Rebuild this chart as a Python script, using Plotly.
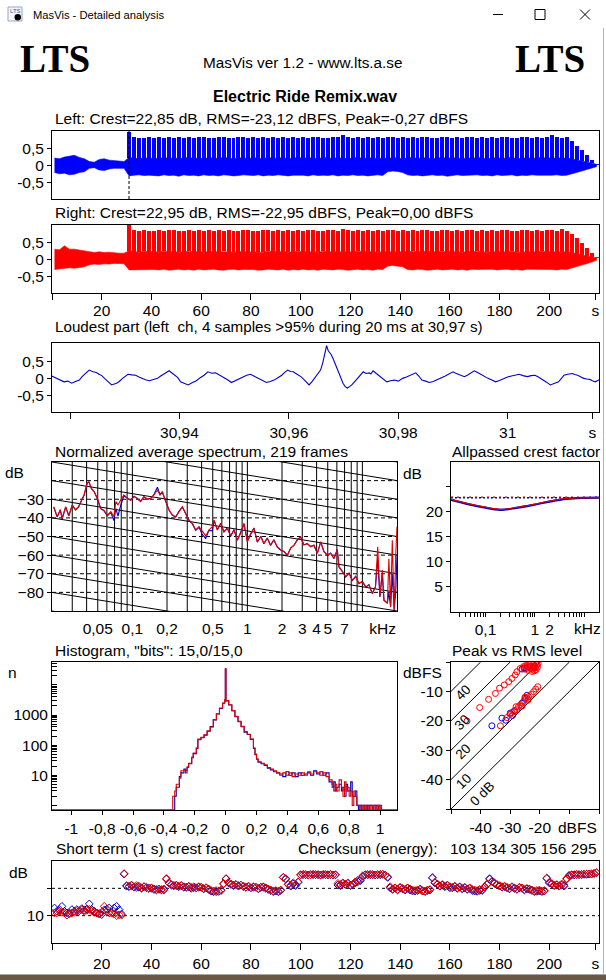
import plotly.graph_objects as go

W, H = 606, 980
SANS = "Liberation Sans, Arial, sans-serif"
SERIF = "Liberation Serif, Times New Roman, serif"
BLUE = "#0000ff"
RED = "#ff0000"
FS = 15.5

# ---------------- data ----------------
# waveform envelopes, one value per 2 s block (block centres 1, 3, ..., 219 s)
left_hi = [0.22, 0.20, 0.25, 0.28, 0.30, 0.24, 0.20, 0.12, 0.10, 0.18,
           0.20, 0.16, 0.14, 0.13, 0.12, 0.99, 0.84, 0.82, 0.83, 0.85,
           0.82, 0.84, 0.83, 0.86, 0.82, 0.84, 0.83, 0.85, 0.82, 0.84,
           0.86, 0.83, 0.82, 0.84, 0.85, 0.83, 0.82, 0.84, 0.86, 0.83,
           0.84, 0.82, 0.85, 0.83, 0.84, 0.82, 0.86, 0.83, 0.84, 0.82,
           0.85, 0.83, 0.84, 0.86, 0.82, 0.83, 0.85, 0.84, 0.90, 0.86,
           0.83, 0.84, 0.82, 0.85, 0.83, 0.84, 0.82, 0.86, 0.84, 0.83,
           0.85, 0.82, 0.84, 0.83, 0.86, 0.84, 0.82, 0.83, 0.85, 0.84,
           0.82, 0.86, 0.83, 0.84, 0.85, 0.82, 0.84, 0.83, 0.86, 0.82,
           0.84, 0.85, 0.83, 0.82, 0.84, 0.86, 0.83, 0.84, 0.82, 0.85,
           0.90, 0.84, 0.82, 0.85, 0.74, 0.60, 0.46, 0.33, 0.19, 0.06]
left_mid = [0.22, 0.20, 0.25, 0.28, 0.30, 0.24, 0.20, 0.12, 0.10, 0.18,
            0.20, 0.16, 0.14, 0.13, 0.12, 0.24, 0.22, 0.20, 0.23, 0.21,
            0.22, 0.20, 0.24, 0.21, 0.23, 0.20, 0.22, 0.24, 0.21, 0.22,
            0.20, 0.23, 0.22, 0.21, 0.24, 0.22, 0.20, 0.23, 0.22, 0.21,
            0.23, 0.22, 0.20, 0.24, 0.21, 0.22, 0.23, 0.20, 0.22, 0.24,
            0.21, 0.23, 0.22, 0.20, 0.24, 0.22, 0.21, 0.23, 0.22, 0.20,
            0.22, 0.24, 0.21, 0.22, 0.23, 0.20, 0.22, 0.21, 0.23, 0.22,
            0.20, 0.22, 0.24, 0.21, 0.23, 0.22, 0.20, 0.22, 0.24, 0.21,
            0.23, 0.22, 0.20, 0.23, 0.21, 0.24, 0.22, 0.20, 0.22, 0.23,
            0.21, 0.22, 0.24, 0.20, 0.22, 0.23, 0.21, 0.22, 0.24, 0.22,
            0.22, 0.21, 0.23, 0.22, 0.20, 0.17, 0.14, 0.11, 0.08, 0.04]
left_lo = [-0.20, -0.24, -0.22, -0.27, -0.25, -0.20, -0.18, -0.08, -0.06, -0.13,
           -0.14, -0.10, -0.08, -0.07, -0.08, -0.30, -0.28, -0.27, -0.29, -0.28,
           -0.28, -0.30, -0.27, -0.29, -0.28, -0.31, -0.27, -0.29, -0.28, -0.30,
           -0.27, -0.29, -0.28, -0.30, -0.27, -0.28, -0.30, -0.29, -0.27, -0.28,
           -0.29, -0.27, -0.30, -0.28, -0.29, -0.27, -0.28, -0.30, -0.28, -0.27,
           -0.28, -0.30, -0.27, -0.29, -0.28, -0.29, -0.27, -0.30, -0.28, -0.29,
           -0.27, -0.29, -0.28, -0.30, -0.28, -0.27, -0.29, -0.18, -0.16, -0.17,
           -0.20, -0.27, -0.29, -0.28, -0.30, -0.28, -0.27, -0.29, -0.28, -0.31,
           -0.28, -0.27, -0.29, -0.30, -0.28, -0.27, -0.29, -0.28, -0.30, -0.27,
           -0.29, -0.28, -0.27, -0.30, -0.28, -0.29, -0.27, -0.28, -0.30, -0.28,
           -0.28, -0.27, -0.29, -0.28, -0.24, -0.20, -0.16, -0.12, -0.08, -0.03]
right_hi = [0.30, 0.28, 0.40, 0.30, 0.30, 0.28, 0.26, 0.22, 0.20, 0.22,
            0.20, 0.21, 0.19, 0.18, 0.18, 1.00, 0.85, 0.84, 0.86, 0.83,
            0.84, 0.86, 0.83, 0.85, 0.87, 0.84, 0.83, 0.86, 0.84, 0.85,
            0.83, 0.86, 0.84, 0.85, 0.83, 0.87, 0.84, 0.83, 0.86, 0.85,
            0.84, 0.83, 0.86, 0.85, 0.84, 0.87, 0.83, 0.85, 0.84, 0.86,
            0.83, 0.85, 0.86, 0.84, 0.83, 0.86, 0.85, 0.84, 0.89, 0.86,
            0.84, 0.85, 0.83, 0.86, 0.84, 0.85, 0.83, 0.87, 0.85, 0.84,
            0.86, 0.83, 0.85, 0.84, 0.87, 0.85, 0.83, 0.84, 0.86, 0.85,
            0.83, 0.87, 0.84, 0.85, 0.86, 0.83, 0.85, 0.84, 0.87, 0.83,
            0.85, 0.86, 0.84, 0.83, 0.85, 0.87, 0.84, 0.85, 0.83, 0.86,
            0.86, 0.84, 0.88, 0.83, 0.76, 0.62, 0.48, 0.34, 0.20, 0.06]
right_mid = [0.30, 0.28, 0.40, 0.30, 0.30, 0.28, 0.26, 0.22, 0.20, 0.22,
             0.20, 0.21, 0.19, 0.18, 0.18, 0.25, 0.23, 0.21, 0.24, 0.22,
             0.23, 0.21, 0.24, 0.22, 0.23, 0.21, 0.22, 0.24, 0.22, 0.23,
             0.21, 0.23, 0.22, 0.22, 0.24, 0.22, 0.21, 0.23, 0.22, 0.22,
             0.23, 0.22, 0.21, 0.24, 0.22, 0.22, 0.23, 0.21, 0.22, 0.24,
             0.22, 0.23, 0.22, 0.21, 0.24, 0.22, 0.22, 0.23, 0.22, 0.21,
             0.22, 0.24, 0.22, 0.22, 0.23, 0.21, 0.22, 0.22, 0.23, 0.22,
             0.21, 0.22, 0.24, 0.22, 0.23, 0.22, 0.21, 0.22, 0.24, 0.22,
             0.23, 0.22, 0.21, 0.23, 0.22, 0.24, 0.22, 0.21, 0.22, 0.23,
             0.22, 0.22, 0.24, 0.21, 0.22, 0.23, 0.22, 0.22, 0.24, 0.22,
             0.23, 0.22, 0.21, 0.23, 0.20, 0.17, 0.14, 0.11, 0.08, 0.04]
right_lo = [-0.30, -0.28, -0.26, -0.25, -0.26, -0.24, -0.22, -0.16, -0.14, -0.15,
            -0.13, -0.14, -0.12, -0.12, -0.13, -0.31, -0.30, -0.29, -0.31, -0.30,
            -0.30, -0.31, -0.29, -0.32, -0.30, -0.29, -0.31, -0.30, -0.32, -0.29,
            -0.31, -0.30, -0.29, -0.31, -0.32, -0.30, -0.29, -0.31, -0.30, -0.29,
            -0.30, -0.32, -0.31, -0.29, -0.30, -0.31, -0.29, -0.32, -0.30, -0.31,
            -0.29, -0.31, -0.30, -0.32, -0.29, -0.30, -0.31, -0.29, -0.30, -0.32,
            -0.30, -0.29, -0.31, -0.30, -0.32, -0.29, -0.30, -0.20, -0.18, -0.19,
            -0.22, -0.30, -0.31, -0.29, -0.30, -0.32, -0.30, -0.29, -0.31, -0.30,
            -0.29, -0.31, -0.30, -0.32, -0.29, -0.30, -0.31, -0.30, -0.29, -0.31,
            -0.30, -0.29, -0.31, -0.30, -0.32, -0.29, -0.30, -0.31, -0.29, -0.30,
            -0.30, -0.31, -0.29, -0.30, -0.25, -0.21, -0.17, -0.13, -0.09, -0.03]
loudest_time = 30.97

# loudest part (left channel), time in s and sample value
lp_t = [30.9164, 30.9170, 30.9175, 30.9182, 30.9189, 30.9196, 30.9203, 30.9210, 30.9217, 30.9222,
        30.9228, 30.9235, 30.9242, 30.9248, 30.9253, 30.9258, 30.9263, 30.9270, 30.9276, 30.9285,
        30.9290, 30.9296, 30.9301, 30.9306, 30.9313, 30.9320, 30.9326, 30.9331, 30.9338, 30.9345,
        30.9352, 30.9360, 30.9365, 30.9370, 30.9376, 30.9381, 30.9387, 30.9392, 30.9397, 30.9402,
        30.9409, 30.9416, 30.9423, 30.9431, 30.9438, 30.9445, 30.9452, 30.9459, 30.9466, 30.9473,
        30.9480, 30.9488, 30.9495, 30.9505, 30.9510, 30.9516, 30.9523, 30.9530, 30.9537, 30.9544,
        30.9551, 30.9559, 30.9566, 30.9573, 30.9580, 30.9587, 30.9593, 30.9598, 30.9603, 30.9608,
        30.9615, 30.9622, 30.9630, 30.9637, 30.9642, 30.9647, 30.9653, 30.9658, 30.9662, 30.9665,
        30.9669, 30.9672, 30.9677, 30.9681, 30.9686, 30.9690, 30.9695, 30.9699, 30.9703, 30.9707,
        30.9711, 30.9715, 30.9720, 30.9726, 30.9731, 30.9736, 30.9741, 30.9747, 30.9750, 30.9754,
        30.9760, 30.9765, 30.9772, 30.9779, 30.9786, 30.9793, 30.9800, 30.9808, 30.9815, 30.9822,
        30.9827, 30.9832, 30.9838, 30.9843, 30.9850, 30.9857, 30.9864, 30.9871, 30.9878, 30.9886,
        30.9893, 30.9900, 30.9905, 30.9911, 30.9916, 30.9921, 30.9927, 30.9932, 30.9936, 30.9939,
        30.9945, 30.9950, 30.9957, 30.9964, 30.9971, 30.9978, 30.9985, 30.9993, 31.0000, 31.0007,
        31.0014, 31.0021, 31.0028, 31.0036, 31.0043, 31.0050, 31.0057, 31.0064, 31.0071, 31.0078,
        31.0085, 31.0093, 31.0098, 31.0103, 31.0110, 31.0118, 31.0123, 31.0128, 31.0134, 31.0139,
        31.0145, 31.0150, 31.0155, 31.0160, 31.0165, 31.0169]
lp_v = [0.09, 0.04, 0.00, -0.06, -0.10, -0.08, -0.14, -0.09, -0.05, 0.05,
        0.14, 0.24, 0.19, 0.17, 0.12, 0.08, 0.00, -0.10, -0.19, -0.14,
        -0.09, 0.00, 0.07, 0.12, 0.10, 0.09, 0.04, 0.00, -0.04, -0.07,
        -0.03, 0.00, 0.06, 0.12, 0.17, 0.22, 0.15, 0.09, 0.02, -0.10,
        -0.15, -0.19, -0.13, -0.07, 0.02, 0.09, 0.19, 0.15, 0.16, 0.10,
        0.05, -0.04, -0.12, -0.05, 0.00, 0.05, 0.09, 0.12, 0.06, 0.00,
        -0.06, -0.12, -0.09, -0.05, 0.02, 0.09, 0.18, 0.24, 0.20, 0.19,
        0.12, 0.05, -0.07, -0.19, -0.10, 0.00, 0.12, 0.24, 0.45, 0.71,
        0.95, 0.80, 0.70, 0.57, 0.38, 0.19, 0.02, -0.14, -0.24, -0.28,
        -0.24, -0.19, -0.10, 0.00, 0.10, 0.19, 0.14, 0.16, 0.13, 0.22,
        0.14, 0.07, -0.03, -0.10, -0.07, -0.05, -0.08, 0.00, 0.04, 0.09,
        0.12, 0.16, 0.06, -0.05, -0.08, -0.12, -0.09, -0.05, 0.01, 0.07,
        0.12, 0.19, 0.15, 0.12, 0.08, 0.05, 0.10, 0.14, 0.18, 0.22,
        0.17, 0.12, 0.06, 0.00, -0.05, -0.10, -0.06, 0.00, 0.04, 0.07,
        0.10, 0.12, 0.08, 0.05, 0.08, 0.09, 0.03, -0.03, -0.11, -0.19,
        -0.15, -0.10, -0.01, 0.09, 0.12, 0.14, 0.11, 0.09, 0.04, 0.00,
        -0.02, -0.03, -0.07, -0.10, -0.06, -0.03]

# normalized average spectrum (kHz, dB)
spec_f = [0.0207, 0.0222, 0.0236, 0.0245, 0.0263, 0.028, 0.030, 0.032, 0.034, 0.0357,
          0.038, 0.0405, 0.0419, 0.044, 0.0464, 0.0496, 0.053, 0.0565, 0.0605, 0.065,
          0.069, 0.0718, 0.075, 0.079, 0.0844, 0.09, 0.0966, 0.1035, 0.110, 0.118,
          0.126, 0.135, 0.144, 0.154, 0.165, 0.174, 0.182, 0.195, 0.208, 0.223,
          0.238, 0.254, 0.272, 0.29, 0.31, 0.332, 0.355, 0.38, 0.406, 0.434,
          0.463, 0.496, 0.513, 0.548, 0.586, 0.626, 0.67, 0.716, 0.765, 0.818,
          0.875, 0.935, 1.0, 1.07, 1.14, 1.22, 1.31, 1.39, 1.49, 1.59,
          1.70, 1.82, 1.95, 2.08, 2.23, 2.38, 2.54, 2.72, 2.90, 3.1,
          3.32, 3.55, 3.79, 4.06, 4.34, 4.63, 4.96, 5.3, 5.66, 6.05,
          6.26, 6.7, 7.16, 7.65, 8.18, 8.74, 9.34, 10.0, 10.7, 11.4,
          12.2, 13.0, 13.6, 14.2, 14.9, 15.4, 16.5, 17.0, 17.6, 18.2,
          18.9, 19.5, 20.0]
spec_right = [-34.0, -39.4, -35.8, -40.2, -34.0, -39.0, -33.1, -35.8, -34.0, -31.3,
              -27.7, -21.1, -20.6, -24.1, -25.9, -29.5, -34.9, -35.8, -38.5, -36.7,
              -39.4, -31.3, -33.1, -30.4, -27.7, -29.5, -30.4, -28.6, -29.5, -31.3,
              -28.6, -30.0, -29.5, -27.7, -25.0, -27.7, -25.9, -31.3, -35.8, -38.5,
              -39.4, -36.7, -34.0, -37.5, -41.1, -42.9, -46.5, -44.7, -47.4, -49.7,
              -46.5, -44.7, -41.1, -46.5, -42.9, -47.4, -45.6, -49.7, -46.5, -51.9,
              -48.3, -42.9, -52.8, -48.3, -45.6, -52.8, -50.1, -53.7, -51.0, -54.6,
              -51.9, -55.5, -57.2, -58.2, -59.9, -56.3, -54.6, -51.9, -50.1, -54.6,
              -53.7, -55.5, -54.6, -59.1, -52.8, -58.2, -59.9, -59.1, -61.7, -57.2,
              -66.2, -68.9, -71.6, -69.8, -73.4, -71.6, -75.1, -74.3, -77.0, -76.0,
              -80.5, -77.0, -55.5, -82.3, -68.0, -84.1, -85.9, -62.0, -87.7, -52.0,
              -89.5, -60.0, -44.7]
spec_left = [-34.2, -39.6, -35.6, -40.6, -34.2, -38.8, -33.3, -35.6, -34.2, -31.1,
             -27.9, -21.3, -20.8, -24.3, -25.7, -29.7, -35.1, -36.2, -38.9, -37.1,
             -41.5, -35.0, -39.0, -33.5, -28.1, -29.3, -30.6, -28.4, -29.7, -31.1,
             -28.8, -29.8, -29.7, -27.5, -23.5, -27.5, -26.1, -31.5, -35.6, -38.7,
             -39.6, -36.5, -34.2, -37.7, -41.3, -43.1, -46.7, -45.1, -49.0, -51.0,
             -46.7, -47.0, -41.5, -46.3, -43.1, -47.6, -45.4, -49.9, -46.3, -52.1,
             -48.1, -43.3, -52.6, -48.5, -45.4, -53.0, -49.9, -53.9, -50.8, -54.8,
             -51.7, -55.7, -57.4, -58.0, -60.1, -56.1, -54.8, -51.7, -50.3, -54.4,
             -53.9, -55.3, -54.8, -58.9, -53.0, -58.0, -60.1, -58.9, -61.9, -57.0,
             -66.4, -68.7, -71.8, -69.6, -73.6, -71.4, -75.3, -74.1, -77.2, -75.8,
             -80.7, -76.8, -62.0, -82.5, -70.0, -84.3, -85.7, -80.0, -87.9, -70.0,
             -89.3, -79.6, -60.0]

# allpassed crest factor (kHz, dB) and overall crest factors
ap_f = [0.02, 0.042, 0.092, 0.2, 0.43, 0.94, 2.1, 4.4, 9.3, 20.0]
ap_left = [22.4, 21.6, 20.9, 20.4, 20.8, 21.4, 22.1, 22.6, 22.8, 22.85]
ap_right = [22.5, 21.7, 21.0, 20.5, 20.9, 21.5, 22.2, 22.7, 22.8, 22.85]
crest_left, crest_right = 22.85, 22.95

# histogram (sample value bin edge, count)
hist_x = [-1.125, -0.343, -0.33, -0.32, -0.30, -0.29, -0.27, -0.26, -0.25, -0.24,
          -0.22, -0.21, -0.19, -0.18, -0.16, -0.14, -0.12, -0.10, -0.08, -0.06,
          -0.04, -0.02, -0.006, -0.002, 0.002, 0.02, 0.04, 0.06, 0.08, 0.10,
          0.12, 0.14, 0.16, 0.18, 0.19, 0.20, 0.21, 0.23, 0.25, 0.27,
          0.29, 0.31, 0.33, 0.35, 0.37, 0.39, 0.41, 0.43, 0.45, 0.47,
          0.49, 0.51, 0.53, 0.55, 0.57, 0.59, 0.61, 0.63, 0.65, 0.67,
          0.69, 0.70, 0.71, 0.72, 0.735, 0.75, 0.76, 0.77, 0.78, 0.79,
          0.80, 0.81, 0.82, 0.83, 0.84, 0.85, 0.86, 0.87, 0.88, 0.89,
          0.90, 0.91, 0.92, 0.93, 0.94, 0.95, 0.96, 0.97, 0.98, 0.99,
          1.00, 1.01, 1.02, 1.11]
hist_right = [0, 2, 3, 5, 8, 14, 15, 12, 19, 25,
              40, 55, 80, 160, 180, 220, 300, 400, 700, 1100,
              1700, 2500, 3200, 35000, 3000, 2200, 1400, 900, 620, 420,
              280, 230, 160, 80, 50, 35, 28, 25, 22, 18,
              16, 14, 12, 10, 12, 10, 12, 9, 11, 10,
              12, 10, 13, 11, 13, 12, 10, 12, 9, 7,
              5, 3, 5, 3, 7, 4, 2, 6, 3, 4,
              2, 3, 1, 3, 2, 1, 1, 0, 1, 0,
              1, 0, 1, 0, 1, 0, 1, 0, 1, 0,
              1, 0, 0, 0]
hist_left = [0, 0, 2, 4, 9, 12, 16, 14, 18, 24,
             38, 52, 78, 150, 175, 215, 290, 410, 690, 1080,
             1650, 2450, 3150, 33000, 2950, 2150, 1380, 880, 600, 410,
             270, 225, 155, 78, 48, 34, 27, 24, 21, 17,
             15, 13, 12, 11, 9, 13, 10, 12, 9, 12,
             10, 11, 12, 10, 14, 11, 13, 10, 12, 6,
             4, 6, 3, 4, 5, 3, 4, 2, 5, 3,
             3, 6, 2, 2, 3, 1, 0, 1, 0, 1,
             0, 1, 0, 1, 1, 0, 1, 1, 0, 1,
             0, 0, 0, 0]
hist_floor = 0.7

# peak vs RMS level per 1 s block (dBFS)
pr_right_rms = [-44.6, -40.3, -37.3, -35.0, -33.6, -32.0, -30.5, -29.4, -28.3, -27.7,
                -26.6, -25.5, -24.3, -23.5, -22.8, -22.0, -21.5, -21.0, -20.6, -22.5,
                -23.0, -24.0, -21.8, -22.3, -21.2, -20.8, -23.8, -24.8, -25.2, -22.6,
                -33.3, -31.1, -30.0, -28.8, -27.2, -26.5, -25.5, -24.6, -23.8, -22.9,
                -22.1, -21.4, -20.7, -27.8, -26.0, -24.0, -25.0, -29.5, -28.0]
pr_right_peak = [-20.1, -15.5, -12.7, -10.7, -8.9, -7.8, -6.7, -5.6, -4.4, -3.3,
                 -2.2, -1.6, -1.3, -1.0, -1.5, -1.2, -2.0, -1.0, -0.5, -2.5,
                 -2.2, -2.8, -3.0, -2.0, -2.6, -1.8, -1.8, -1.2, -2.4, -3.2,
                 -21.7, -18.9, -17.8, -16.9, -15.2, -14.5, -13.5, -12.6, -11.8, -11.0,
                 -10.1, -9.2, -8.4, -16.2, -15.0, -13.0, -12.0, -17.2, -15.2]
pr_left_rms = [-36.2, -32.8, -31.5, -30.0, -29.2, -25.0, -24.3, -26.0, -28.5, -26.0,
               -25.2, -22.0, -21.6, -23.4, -24.6]
pr_left_peak = [-21.7, -19.1, -19.8, -17.4, -18.2, -12.4, -11.3, -14.0, -16.5, -2.4,
                -2.0, -2.0, -1.4, -1.6, -2.2]

# short term (1 s) crest factor, one value per second (1..219 s)
stc_right = [11.0, 11.0, 11.6, 11.2, 11.0, 10.2, 10.6, 11.0, 11.2, 11.6,
             11.8, 12.2, 11.6, 12.0, 12.3, 11.6, 11.2, 11.0, 10.8, 11.3,
             13.4, 11.6, 11.0, 10.9, 10.6, 10.0, 10.3, 10.2, 25.4, 21.0,
             20.8, 21.2, 20.6, 21.0, 20.8, 20.2, 20.6, 20.4, 20.0, 20.2,
             19.8, 19.6, 19.8, 19.6, 19.8, 23.6, 22.0, 21.4, 21.0, 21.2,
             20.8, 21.0, 20.6, 20.4, 20.8, 20.4, 20.6, 20.2, 20.6, 20.4,
             20.0, 20.2, 19.8, 19.2, 19.0, 19.2, 18.9, 19.4, 21.8, 23.6,
             22.2, 21.6, 21.2, 21.4, 21.0, 21.2, 20.8, 20.4, 20.8, 20.2,
             20.6, 20.4, 20.0, 20.4, 20.6, 20.2, 19.8, 19.4, 19.0, 19.2,
             18.9, 19.4, 24.0, 23.6, 21.6, 21.2, 22.0, 21.4, 22.4, 25.0,
             25.1, 25.0, 24.9, 25.0, 25.1, 25.0, 25.0, 24.9, 25.1, 25.0,
             25.0, 25.1, 24.9, 25.0, 21.8, 21.4, 22.0, 21.6, 22.0, 21.2,
             21.6, 22.4, 23.0, 23.2, 24.6, 25.0, 25.0, 25.1, 25.0, 24.9,
             25.0, 25.1, 25.2, 24.8, 24.2, 20.6, 19.8, 20.2, 19.6, 20.4,
             20.0, 19.6, 20.2, 19.8, 19.4, 19.2, 19.4, 19.8, 19.2, 19.0,
             19.4, 19.6, 24.0, 22.2, 21.6, 21.0, 21.4, 20.8, 21.2, 20.6,
             20.4, 20.8, 20.2, 20.6, 20.0, 20.4, 19.8, 20.2, 19.6, 19.4,
             19.2, 19.6, 19.4, 20.6, 21.6, 23.6, 22.6, 22.0, 21.4, 21.0,
             20.6, 20.8, 20.4, 20.0, 20.6, 20.2, 19.8, 20.4, 20.2, 19.6,
             20.0, 19.8, 19.4, 19.0, 19.2, 19.4, 19.0, 19.2, 23.8, 22.2,
             21.8, 21.2, 21.4, 21.0, 21.6, 21.2, 23.6, 24.8, 25.0, 25.0,
             25.1, 25.0, 25.1, 25.2, 25.2, 25.3, 25.3, 25.5, 25.8]
stc_left = [12.8, 11.6, 12.2, 13.4, 11.6, 11.0, 11.0, 12.2, 11.6, 12.2,
            11.8, 12.6, 12.0, 12.4, 14.3, 12.2, 11.6, 11.0, 10.6, 10.4,
            12.0, 12.4, 12.8, 11.2, 12.8, 13.4, 12.2, 10.6, 25.2, 20.8,
            20.6, 21.0, 20.4, 20.4, 20.4, 20.0, 20.6, 20.2, 20.0, 20.0,
            19.6, 19.4, 19.6, 19.4, 19.4, 23.4, 22.0, 21.2, 21.0, 21.0,
            20.6, 21.0, 20.4, 20.4, 20.6, 20.0, 20.2, 20.2, 20.4, 20.4,
            19.8, 20.2, 19.6, 19.0, 18.8, 18.8, 18.9, 19.2, 21.6, 23.4,
            22.0, 21.4, 21.0, 21.4, 20.8, 21.2, 20.6, 20.4, 20.6, 20.2,
            20.4, 20.4, 19.8, 20.4, 20.4, 20.0, 19.6, 19.2, 18.8, 19.0,
            18.8, 19.2, 24.0, 23.4, 21.4, 20.8, 21.6, 21.0, 22.2, 24.9,
            25.0, 25.0, 24.9, 25.0, 25.0, 25.0, 25.0, 24.9, 25.0, 25.0,
            24.9, 25.0, 24.9, 24.9, 21.2, 21.0, 21.8, 21.4, 21.8, 21.0,
            21.4, 22.0, 22.4, 22.8, 24.4, 24.9, 25.0, 25.0, 25.0, 24.9,
            25.0, 25.0, 25.1, 24.8, 24.0, 20.2, 19.6, 20.0, 19.4, 20.2,
            19.8, 19.4, 20.0, 19.4, 19.0, 19.0, 19.2, 19.6, 19.0, 18.8,
            19.2, 19.4, 23.8, 22.0, 21.4, 20.8, 21.2, 20.6, 21.0, 20.2,
            20.2, 20.6, 20.0, 20.4, 19.8, 20.2, 19.6, 20.0, 19.2, 19.0,
            18.9, 19.2, 19.2, 20.4, 21.4, 23.4, 22.4, 21.8, 21.2, 20.8,
            20.4, 20.6, 20.2, 19.8, 20.4, 20.0, 19.6, 20.2, 20.0, 19.4,
            19.8, 19.6, 19.2, 18.8, 18.9, 19.0, 18.8, 19.0, 23.6, 22.0,
            21.6, 21.0, 21.2, 20.8, 21.2, 20.8, 23.4, 24.6, 24.9, 24.9,
            25.0, 25.0, 25.0, 25.1, 25.1, 25.2, 25.2, 25.4, 25.7]

# tick labels
time_ticks = [0, 20, 40, 60, 80, 100, 120, 140, 160, 180, 200, 218.5]
time_labels = ["", "20", "40", "60", "80", "100", "120", "140", "160", "180", "200", "s"]
lp_ticks = [30.92, 30.94, 30.96, 30.98, 31.00, 31.0155]
lp_labels = ["", "30,94", "30,96", "30,98", "31", "s"]
spec_ticks = [0.05, 0.1, 0.2, 0.5, 1, 2, 3, 4, 5, 7, 15]
spec_labels = ["0,05", "0,1", "0,2", "0,5", "1", "2", "3", "4", "5", "7", "kHz"]
hist_ticks = [-1, -0.8, -0.6, -0.4, -0.2, 0, 0.2, 0.4, 0.6, 0.8, 1]
hist_labels = ["-1", "-0,8", "-0,6", "-0,4", "-0,2", "0", "0,2", "0,4", "0,6", "0,8", "1"]

for a, b in [(left_hi, left_mid), (left_hi, left_lo), (left_hi, right_hi), (left_hi, right_mid),
             (left_hi, right_lo), (lp_t, lp_v), (spec_f, spec_right), (spec_f, spec_left),
             (hist_x, hist_right), (hist_x, hist_left), (pr_right_rms, pr_right_peak),
             (pr_left_rms, pr_left_peak), (stc_right, stc_left)]:
    assert len(a) == len(b), (len(a), len(b))

# ---------------- helpers ----------------
def X(p):
    return p / W


def Y(p):
    return 1 - p / H


def xdom(a, b):
    return [a / W, b / W]


def ydom(top, bot):
    return [1 - bot / H, 1 - top / H]


def axis(domain, rng, anchor, **kw):
    d = dict(domain=domain, range=rng, anchor=anchor, showline=True, mirror=True,
             linecolor="black", linewidth=1, showgrid=False, zeroline=False,
             ticks="outside", ticklen=4, tickcolor="black", tickwidth=1,
             tickfont=dict(family=SANS, size=FS, color="black"), fixedrange=True)
    d.update(kw)
    return d


fig = go.Figure()


def add(tr, n):
    suffix = "" if n == 1 else str(n)
    tr.update(xaxis="x" + suffix, yaxis="y" + suffix, showlegend=False, hoverinfo="skip")
    fig.add_trace(tr)


wave_t = [1 + 2 * i for i in range(len(left_hi))]

# ---- waveform panels ----
for n, hi, mid, lo, col in [(1, left_hi, left_mid, left_lo, BLUE), (2, right_hi, right_mid, right_lo, RED)]:
    add(go.Scatter(x=wave_t + wave_t[::-1], y=mid + lo[::-1], mode="lines", fill="toself",
                   fillcolor=col, line=dict(color=col, width=0.6)), n)
    add(go.Bar(x=wave_t, y=[h - m for h, m in zip(hi, mid)], base=mid, width=1.6,
               marker=dict(color=col, line=dict(width=0))), n)
add(go.Scatter(x=[loudest_time, loudest_time], y=[-0.975, 1.025], mode="lines",
               line=dict(color="black", width=1, dash="3px,2px")), 1)

# ---- loudest part ----
add(go.Scatter(x=lp_t, y=lp_v, mode="lines", line=dict(color="#0000c8", width=1.1)), 3)

# ---- spectrum ----
grid_f = [0.03, 0.04, 0.05, 0.06, 0.07, 0.08, 0.09, 0.1, 0.2, 0.3, 0.4, 0.5, 0.6, 0.7, 0.8, 0.9,
          1, 2, 3, 4, 5, 6, 7, 8, 9, 10]
vx, vy = [], []
for f in grid_f:
    vx += [f, f, None]
    vy += [-90, -10, None]
add(go.Scatter(x=vx, y=vy, mode="lines", line=dict(color="black", width=1)), 4)
dx, dy = [], []
for c in range(-90, 30, 10):
    dx += [0.02, 20, None]
    dy += [c, c - 30, None]
add(go.Scatter(x=dx, y=dy, mode="lines", line=dict(color="black", width=1)), 4)
hx, hy = [], []
for c in range(-80, -10, 10):
    hx += [0.02, 20, None]
    hy += [c, c, None]
add(go.Scatter(x=hx, y=hy, mode="lines", line=dict(color="black", width=1, dash="4px,3px")), 4)
add(go.Scatter(x=spec_f, y=spec_left, mode="lines", line=dict(color="#0000c0", width=1.1)), 4)
add(go.Scatter(x=spec_f, y=spec_right, mode="lines", line=dict(color="#e00000", width=1.1)), 4)

# ---- allpassed crest factor ----
add(go.Scatter(x=[0.02, 20], y=[crest_left, crest_left], mode="lines",
               line=dict(color="#0000c0", width=1.5, dash="2px,2px")), 5)
add(go.Scatter(x=[0.02, 20], y=[crest_right, crest_right], mode="lines",
               line=dict(color="#d00000", width=1.2, dash="2px,4px")), 5)
add(go.Scatter(x=ap_f, y=ap_left, mode="lines", line=dict(color="#0000c0", width=2.2, shape="spline")), 5)
add(go.Scatter(x=ap_f, y=ap_right, mode="lines", line=dict(color="#e00000", width=1.1, shape="spline")), 5)

# ---- histogram ----
add(go.Scatter(x=hist_x, y=[c if c > 0 else hist_floor for c in hist_left], mode="lines",
               line=dict(color="#0000c0", width=1.1, shape="hv")), 6)
add(go.Scatter(x=hist_x, y=[c if c > 0 else hist_floor for c in hist_right], mode="lines",
               line=dict(color="#e00000", width=1.1, shape="hv")), 6)

# ---- peak vs RMS ----
px_, py_ = [], []
for c in [0, 10, 20, 30, 40]:
    px_ += [-50, -c, None]
    py_ += [-50 + c, 0, None]
add(go.Scatter(x=px_, y=py_, mode="lines", line=dict(color="black", width=1)), 7)
add(go.Scatter(x=pr_left_rms, y=pr_left_peak, mode="markers",
               marker=dict(symbol="circle-open", size=6, color=BLUE, line=dict(width=1))), 7)
add(go.Scatter(x=pr_right_rms, y=pr_right_peak, mode="markers",
               marker=dict(symbol="circle-open", size=6, color=RED, line=dict(width=1))), 7)

# ---- short term crest ----
add(go.Scatter(x=[0, 220, None, 0, 220], y=[10, 10, None, 20, 20], mode="lines",
               line=dict(color="black", width=1, dash="3px,3px")), 8)
stc_t = list(range(1, len(stc_right) + 1))
add(go.Scatter(x=stc_t, y=stc_left, mode="markers",
               marker=dict(symbol="diamond-open", size=6, color="#0000c0", line=dict(width=1))), 8)
add(go.Scatter(x=stc_t, y=stc_right, mode="markers",
               marker=dict(symbol="diamond-open", size=6, color="#e00000", line=dict(width=1))), 8)

# ---------------- axes ----------------
log_lo, log_hi = -1.69897, 1.30103
ap_ticks = [0.03, 0.04, 0.05, 0.06, 0.07, 0.08, 0.09, 0.1, 0.2, 0.3, 0.4, 0.5, 0.6, 0.7, 0.8, 0.9,
            1, 2, 3, 4, 5, 6, 7, 8, 9, 10]
ap_text = ["0,1" if v == 0.1 else ("1" if v == 1 else ("2" if v == 2 else "")) for v in ap_ticks]
hy_ticks = [m * 10 ** e for e in range(0, 5) for m in range(1, 10) if m * 10 ** e < 60000]
hy_text = [{10: "10", 100: "100", 1000: "1000"}.get(v, "") for v in hy_ticks]

layout_axes = dict(
    xaxis=axis(xdom(52, 599), [0, 220], "y", showticklabels=False, ticks=""),
    yaxis=axis(ydom(130.5, 199), [-0.975, 1.025], "x", tickvals=[-0.5, 0, 0.5],
               ticktext=["-0,5", "0", "0,5"]),
    xaxis2=axis(xdom(52, 599), [0, 220], "y2", tickvals=time_ticks, ticktext=time_labels,
                ticklen=6, ticklabelstandoff=-3),
    yaxis2=axis(ydom(225, 293), [-0.99, 1.01], "x2", tickvals=[-0.5, 0, 0.5],
                ticktext=["-0,5", "0", "0,5"]),
    xaxis3=axis(xdom(52, 599), [30.9167, 31.0167], "y3", tickvals=lp_ticks, ticktext=lp_labels,
                ticklen=6, ticklabelstandoff=0),
    yaxis3=axis(ydom(343, 412), [-0.975, 1.025], "x3", tickvals=[-0.5, 0, 0.5],
                ticktext=["-0,5", "0", "0,5"]),
    xaxis4=axis(xdom(52, 397), [log_lo, log_hi], "y4", type="log", tickvals=spec_ticks,
                ticktext=spec_labels, tickcolor="rgba(0,0,0,0)", ticklen=3),
    yaxis4=axis(ydom(462, 611), [-90, -10], "x4", tickvals=[-80, -70, -60, -50, -40, -30]),
    xaxis5=axis(xdom(451, 599), [log_lo, log_hi], "y5", type="log", tickvals=ap_ticks,
                ticktext=ap_text, ticklen=4),
    yaxis5=axis(ydom(462, 611.5), [0, 30], "x5", tickvals=[5, 10, 15, 20, 25],
                ticktext=["5", "10", "15", "20", ""]),
    xaxis6=axis(xdom(52, 397), [-1.125, 1.11], "y6", tickvals=hist_ticks, ticktext=hist_labels,
                ticklen=4),
    yaxis6=axis(ydom(662, 810), [-0.155, 4.76], "x6", type="log", tickvals=hy_ticks,
                ticktext=hy_text, ticks="inside", ticklen=5),
    xaxis7=axis(xdom(451, 599), [-50, 0], "y7", tickvals=[-50, -40, -30, -20, -10, 0],
                ticktext=["", "-40", "-30", "-20", "", ""], ticklen=4),
    yaxis7=axis(ydom(662, 809), [-50, 0], "x7", tickvals=[-50, -40, -30, -20, -10, 0],
                ticktext=["", "-40", "-30", "-20", "-10", ""]),
    xaxis8=axis(xdom(52, 599), [0, 220], "y8", tickvals=time_ticks, ticktext=time_labels,
                ticklen=6, ticklabelstandoff=0),
    yaxis8=axis(ydom(861, 943), [0, 30], "x8", tickvals=[10, 20], ticktext=["10", ""]),
)

# ---------------- texts ----------------
def txt(x, y, s, size=FS, anchor="left", family=SANS, color="black", angle=0):
    return dict(x=X(x), y=Y(y), xref="paper", yref="paper", text=s, showarrow=False,
                xanchor=anchor, yanchor="middle", textangle=angle,
                font=dict(family=family, size=size, color=color))


ann = [
    txt(31, 14.5, "MasVis - Detailed analysis", size=11.2),
    txt(15, 11, "LTS", size=6, anchor="center", color="#3050a0"),
    txt(55, 58, "<b>LTS</b>", size=39, anchor="center", family=SERIF),
    txt(550, 58, "<b>LTS</b>", size=39, anchor="center", family=SERIF),
    txt(302.5, 63, "MasVis ver 1.2 - www.lts.a.se", size=15.3, anchor="center"),
    txt(304.5, 97, "<b>Electric Ride Remix.wav</b>", size=16, anchor="center"),
    txt(53, 118, "Left: Crest=22,85 dB, RMS=-23,12 dBFS, Peak=-0,27 dBFS"),
    txt(53, 212, "Right: Crest=22,95 dB, RMS=-22,95 dBFS, Peak=0,00 dBFS"),
    txt(53, 326, "Loudest part (left\u00a0 ch, 4 samples >95% during 20 ms at 30,97 s)", size=15.2),
    txt(53, 451, "Normalized average spectrum, 219 frames"),
    txt(450, 451, "Allpassed crest factor"),
    txt(3, 472, "dB"),
    txt(401, 473, "dB"),
    txt(587, 628, "kHz", anchor="center"),
    txt(53, 650, "Histogram, \"bits\": 15,0/15,0"),
    txt(450, 650, "Peak vs RMS level"),
    txt(6, 672, "n"),
    txt(401, 672, "dBFS"),
    txt(577, 827, "dBFS", anchor="center"),
    txt(54, 848, "Short term (1 s) crest factor"),
    txt(296, 848, "Checksum (energy):"),
    txt(599, 848, "103 134 305 156 295", anchor="right"),
    txt(7, 872, "dB"),
]
# rotated labels of the peak/RMS difference lines (data coordinates)
for lab, xv, yv in [("40", -45.85, -10.5), ("30", -46.2, -20.7), ("20", -45.85, -30.6),
                    ("10", -45.85, -40.5), ("0 dB", -39.45, -44.6)]:
    ann.append(dict(x=xv, y=yv, xref="x7", yref="y7", text=lab, showarrow=False,
                    textangle=-45, xanchor="center", yanchor="middle",
                    font=dict(family=SANS, size=13.5, color="black")))

# ---------------- window chrome ----------------
def rect(x0, y0, x1, y1, **kw):
    return dict(type="rect", xref="paper", yref="paper", x0=X(x0), x1=X(x1), y0=Y(y0), y1=Y(y1), **kw)


def seg(x0, y0, x1, y1, color="black", width=1):
    return dict(type="line", xref="paper", yref="paper", x0=X(x0), x1=X(x1), y0=Y(y0), y1=Y(y1),
                line=dict(color=color, width=width))


shapes = [
    rect(8, 7, 22, 21, line=dict(color="#9aa8c0", width=1), fillcolor="#f4f6fa", layer="below"),
    dict(type="circle", xref="paper", yref="paper", x0=X(14.5), x1=X(21), y0=Y(14), y1=Y(20.5),
         fillcolor="black", line=dict(width=0)),
    seg(493, 14.5, 503, 14.5, width=1),
    rect(535, 9.5, 545, 19.5, line=dict(color="black", width=1)),
    seg(580, 9.5, 590, 19.5, width=1),
    seg(580, 19.5, 590, 9.5, width=1),
    seg(603.5, 28, 603.5, 975, color="#b4b4b4", width=1),
    seg(0, 974.5, 606, 974.5, color="#a8a8a8", width=1),
    rect(0, 975, 606, 980, line=dict(width=0), fillcolor="#6a5844"),
]

fig.update_layout(
    width=W, height=H, margin=dict(l=0, r=0, t=0, b=0),
    paper_bgcolor="white", plot_bgcolor="white", showlegend=False,
    barmode="overlay", bargap=0, annotations=ann, shapes=shapes,
    font=dict(family=SANS, size=FS, color="black"),
    **layout_axes,
)

fig.write_html(
    "out.html",
    config={"displayModeBar": False},
    post_script="document.body.style.margin='0';document.body.style.padding='0';"
                "document.body.style.overflow='hidden';",
)
